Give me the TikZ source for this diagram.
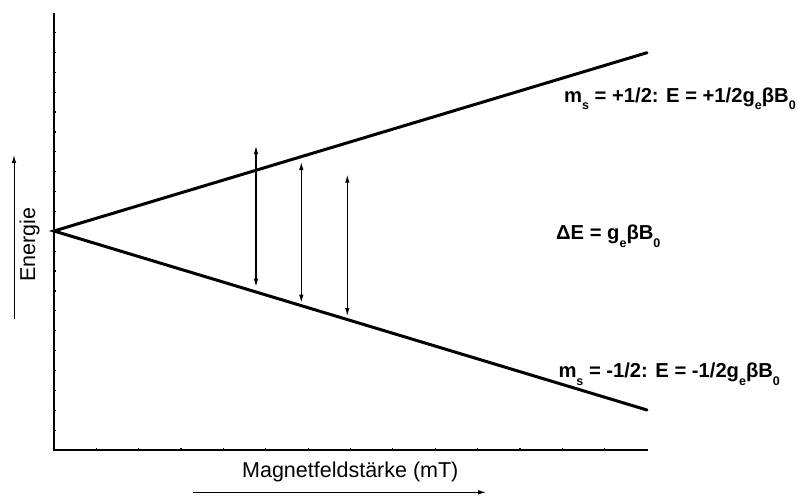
\documentclass[tikz,border=0pt]{standalone}
\usepackage{fontspec}
\setmainfont{Liberation Sans}
\usetikzlibrary{arrows.meta}
\newcommand{\lowsub}[1]{\raisebox{-7.6pt}{\fontsize{12.5}{12.5}\selectfont #1}}
\begin{document}
\begin{tikzpicture}[x=1pt,y=-1pt,
  level/.style={line width=3pt, line cap=round},
  axisline/.style={line width=1.8pt},
  tick/.style={line width=1.2pt},
  trans/.style={line width=1.1pt, {Latex[length=8pt,width=4.5pt]}-{Latex[length=8pt,width=4.5pt]}},
  dirarrow/.style={line width=1pt, -{Latex[length=8pt,width=4.5pt]}},
  lbl/.style={anchor=base west, inner sep=0pt, font=\fontsize{20.2}{24}\selectfont\bfseries},
  axlbl/.style={inner sep=0pt, font=\fontsize{21.5}{25}\selectfont}]
\useasboundingbox (0,0) rectangle (798,496);
\fill[white] (0,0) rectangle (798,496);
% axes
\coordinate (ytop) at (54,12.7);
\coordinate (orig) at (54,450);
\coordinate (xend) at (647.5,450);
\draw[axisline] (ytop) -- (orig) -- (xend);
\foreach \k in {1,...,21} \draw[tick] (54,450-19.88*\k) -- ++(2,0);
\foreach \k in {1,...,13} \draw[tick] (54+42.36*\k,450) -- ++(0,-2);
% levels
\coordinate (O) at (54,231);
\coordinate (U) at (647,52.7);
\coordinate (L) at (647,410);
\draw[level] (U) -- (O) -- (L);
% transitions
\coordinate (a1) at (256,146);   \coordinate (b1) at (256,286.7);
\coordinate (a2) at (301.3,162); \coordinate (b2) at (301.3,302.7);
\coordinate (a3) at (347.3,174.7); \coordinate (b3) at (347.3,316);
\draw[trans] (a1) -- (b1);
\draw[trans] (a2) -- (b2);
\draw[trans] (a3) -- (b3);
% labels
\node[lbl] (up) at (564,102) {m\lowsub{s} = +1/2: E = +1/2g\lowsub{e}βB\lowsub{0}};
\node[lbl] (de) at (556,239.5) {ΔE = g\lowsub{e}βB\lowsub{0}};
\node[lbl] (lo) at (558.3,377.5) {m\lowsub{s} = -1/2: E = -1/2g\lowsub{e}βB\lowsub{0}};
% axis labels and direction arrows
\node[axlbl, rotate=90, anchor=base] (en) at (35,244.5) {Energie};
\coordinate (ea) at (14,319.3); \coordinate (eb) at (14,155);
\draw[dirarrow] (ea) -- (eb);
\node[axlbl, anchor=base] (mf) at (350.3,477) {Magnetfeldstärke (mT)};
\coordinate (ma) at (193.3,492.3); \coordinate (mb) at (486,492.3);
\draw[dirarrow] (ma) -- (mb);
\end{tikzpicture}
\end{document}
